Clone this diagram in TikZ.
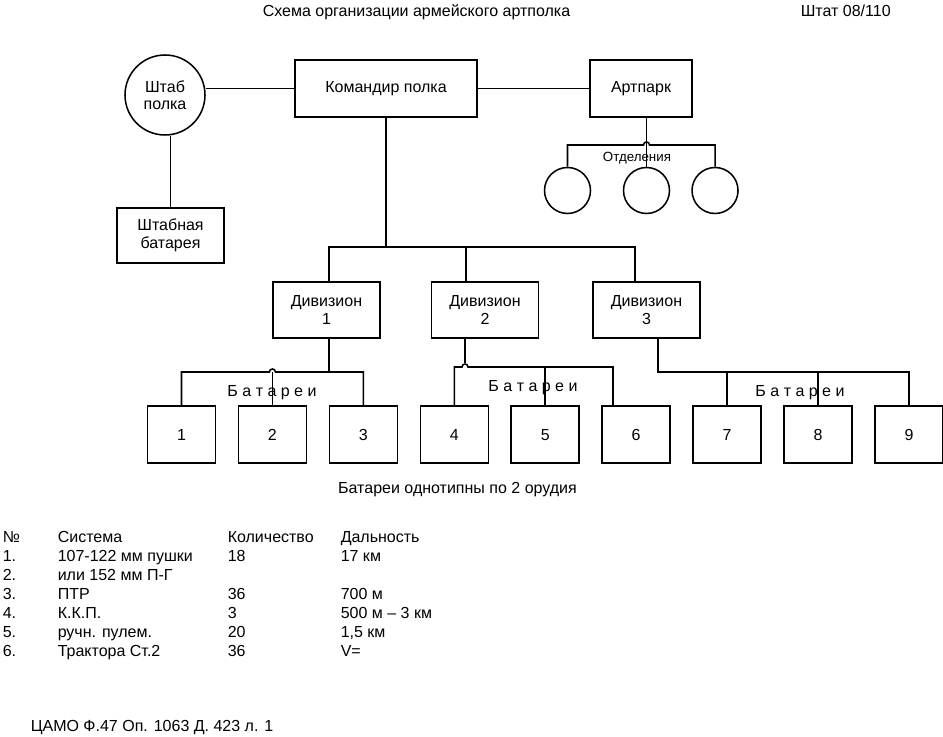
\documentclass[tikz,border=0pt]{standalone}
\usepackage{fontspec}
\setmainfont{Liberation Sans}
\usetikzlibrary{positioning}

\tikzset{
  box/.style={draw, rectangle, align=center, inner sep=1pt, font=\fontsize{12}{13.5}\selectfont},
  unitbox/.style={box, minimum width=80.25pt, minimum height=42pt},
  batbox/.style={draw, rectangle, inner sep=0pt, text height=8.6pt, text depth=0pt,
    font=\fontsize{12}{14}\selectfont, minimum width=51pt, minimum height=42.75pt},
  ring/.style={draw, circle, inner sep=0pt, align=center, font=\fontsize{12}{12.5}\selectfont},
  txt/.style={inner sep=0pt, text height=8.6pt, text depth=2.5pt, font=\fontsize{12}{14}\selectfont},
  cell/.style={txt, anchor=west},
}

\begin{document}
\begin{tikzpicture}[x=0.75pt, y=-0.75pt, line width=1.15pt, on grid, node distance=68.2pt]
  \useasboundingbox (0,0) rectangle (943,737);
  % headings
  \node[txt] (title) at (416.5,12) {Схема организации армейского артполка};
  \node[txt, anchor=west] (staff) at (800,12) {Штат 08/110};

  % top level
  \node[box, minimum width=136.5pt, minimum height=42.75pt] (cmd) at (386,88.5) {Командир полка};
  \node[box, minimum width=76.5pt, minimum height=42.75pt] (park) [right=191.25pt of cmd] {Артпарк};
  \node[ring, minimum size=60pt] (hq) at (165,95) {Штаб\\полка};
  \node[box, minimum width=80.25pt, minimum height=41.25pt] (hqbat) at (170.5,235.5) {Штабная\\батарея};

  \draw (hq.east |- cmd.west) -- (cmd.west);
  \draw (cmd) -- (park);
  \draw (hqbat.north) -- (hqbat.north |- hq.south);

  % artpark squads
  \node[ring, minimum size=34.5pt] (sq1) at (567.5,190.5) {};
  \node[ring, minimum size=34.5pt] (sq2) [right=59.25pt of sq1] {};
  \node[ring, minimum size=34.5pt] (sq3) [right=51.4pt of sq2] {};
  \node[txt, font=\fontsize{10}{12}\selectfont] (squads) at (637,157) {Отделения};
  \coordinate (sqbus) at (0,145);
  \coordinate (sqhop) at (sq2.north |- sqbus);
  \draw (sq1.north) -- (sq1.north |- sqbus) -- ([xshift=-2.25pt]sqhop)
    .. controls ([xshift=-2.25pt,yshift=3pt]sqhop) and ([xshift=2.25pt,yshift=3pt]sqhop) .. ([xshift=2.25pt]sqhop)
    -- (sq3.north |- sqbus) -- (sq3.north);
  \draw (sq2.north |- park.south) -- (sq2.north);

  % divisions
  \node[unitbox] (div1) at (326.5,310) {Дивизион\\1};
  \node[unitbox] (div2) at (485,310) {Дивизион\\2};
  \node[unitbox] (div3) at (646.5,310) {Дивизион\\3};
  \coordinate (d1in) at (329,247);
  \coordinate (d2in) at (466,247);
  \coordinate (d3in) at (635,247);
  \draw (cmd.south) -- (cmd.south |- d1in);
  \draw (d1in |- div1.north) -- (d1in) -- (d3in) -- (d3in |- div3.north);
  \draw (d2in) -- (d2in |- div2.north);

  % batteries
  \node[batbox] (b1) at (181.5,434.5) {1};
  \foreach \i [count=\p] in {2,...,9}
    \node[batbox, right=of b\p] (b\i) {\i};

  \coordinate (d1out) at (329,372);
  \coordinate (hop1) at (b2.north |- d1out);
  \draw (d1out |- div1.south) -- (d1out);
  \draw (b1.north) -- (b1.north |- d1out) -- ([xshift=-2.25pt]hop1)
    .. controls ([xshift=-2.25pt,yshift=3pt]hop1) and ([xshift=2.25pt,yshift=3pt]hop1) .. ([xshift=2.25pt]hop1)
    -- (b3.north |- d1out) -- (b3.north);
  \draw (hop1) -- (b2.north);

  \coordinate (d2out) at (465,367);
  \coordinate (b6in) at (613,367);
  \draw (d2out |- div2.south) -- ([yshift=3pt]d2out);
  \draw (b4.north) -- (b4.north |- d2out) -- ([xshift=-2.25pt]d2out)
    .. controls ([xshift=-2.25pt,yshift=3pt]d2out) and ([xshift=2.25pt,yshift=3pt]d2out) .. ([xshift=2.25pt]d2out)
    -- (b6in) -- (b6in |- b6.north);
  \draw (b5.north |- d2out) -- (b5.north);

  \coordinate (d3out) at (658,372);
  \draw (d3out |- div3.south) -- (d3out) -- (b9.north |- d3out) -- (b9.north);
  \draw (b7.north |- d3out) -- (b7.north);
  \draw (b8.north |- d3out) -- (b8.north);

  \node[txt] (lbl1) at (272,392) {Б а т а р е и};
  \node[txt] (lbl2) at (533,387) {Б а т а р е и};
  \node[txt] (lbl3) at (800,392) {Б а т а р е и};

  \node[txt] (note) at (457.5,489) {Батареи однотипны по 2 орудия};

  % weapons table
  \foreach \no/\sys/\cnt/\dist [count=\r] in {№/Система/Количество/Дальность,
      1./107-122 мм пушки/18/17 км, 2./или 152 мм П-Г//, 3./ПТР/36/700 м,
      4./К.К.П./3/500 м – 3 км, 5./ручн. пулем./20/{1,5 км}, 6./Трактора Ст.2/36/V=} {
    \node[cell] (no\r) at (2,{519+19*\r}) {\no};
    \node[cell] (sys\r) at (57,{519+19*\r}) {\sys};
    \node[cell] (cnt\r) at (227,{519+19*\r}) {\cnt};
    \node[cell] (dist\r) at (340,{519+19*\r}) {\dist};
  }

  \node[cell] (src) at (30,727) {ЦАМО Ф.47 Оп. 1063 Д. 423 л. 1};
\end{tikzpicture}
\end{document}
